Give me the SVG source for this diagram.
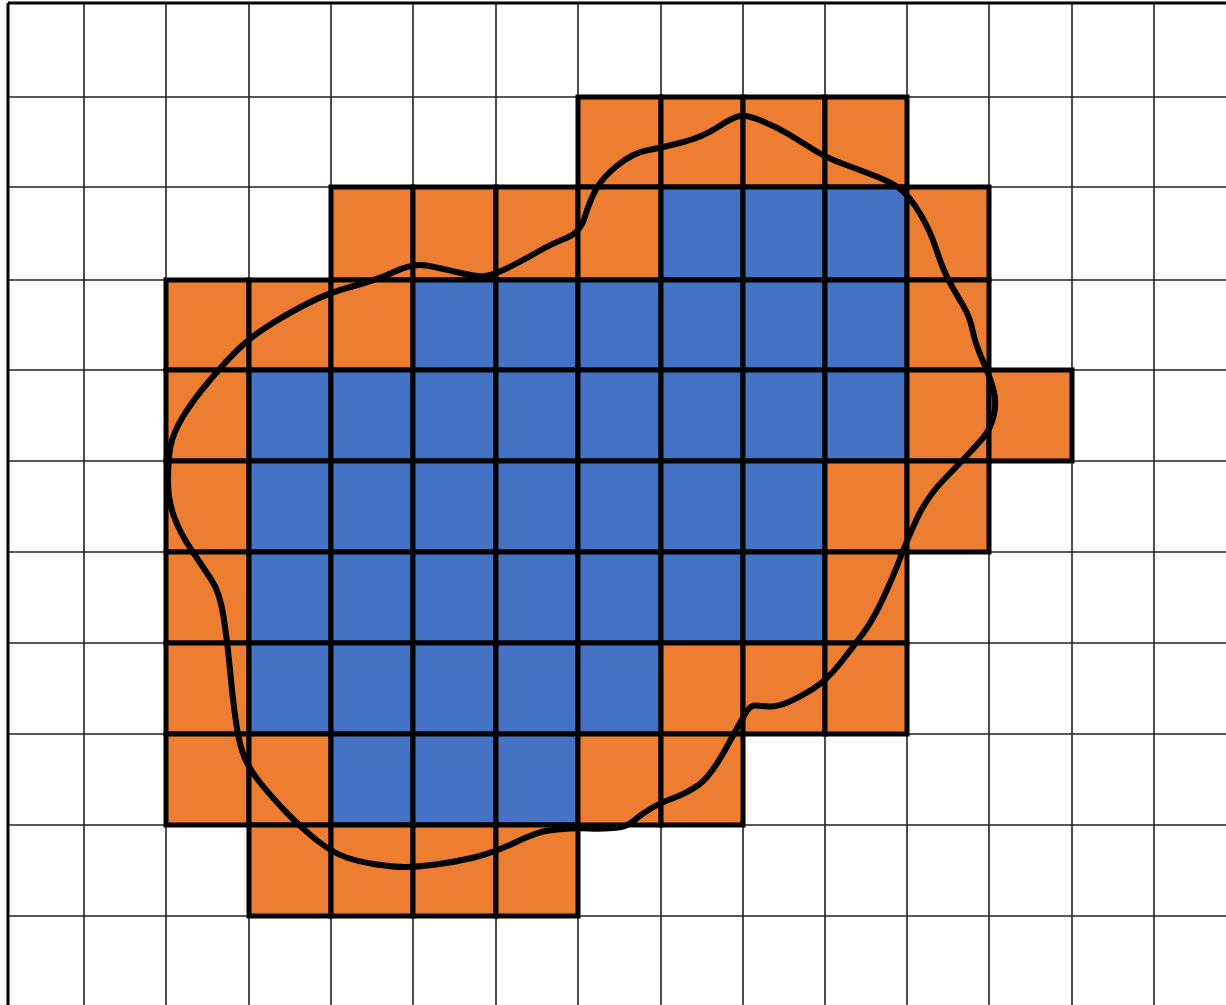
<svg xmlns="http://www.w3.org/2000/svg" width="1226" height="1005" viewBox="0 0 1226 1005">
<style>
.g{stroke:#222;stroke-width:1.6;fill:none}
.o{fill:#ED7D31;stroke:#000;stroke-width:5}
.b{fill:#4472C4;stroke:#000;stroke-width:5}
.c{fill:none;stroke:#000;stroke-width:6;stroke-linejoin:round;stroke-linecap:round}
</style>
<rect width="1226" height="1005" fill="#fff"/>
<g id="grid">
<path class="g" d="M84 3V1005M166 3V1005M249 3V1005M331 3V1005M413 3V1005M496 3V1005M578 3V1005M661 3V1005M743 3V1005M825 3V1005M907 3V1005M989 3V1005M1072 3V1005M1154 3V1005"/>
<path class="g" d="M8 97H1226M8 187H1226M8 280H1226M8 370H1226M8 461H1226M8 552H1226M8 643H1226M8 734H1226M8 825H1226M8 916H1226"/>
<path d="M8 3H1226M8 3V1005" stroke="#000" stroke-width="3" fill="none"/>
</g>
<g id="cells">
<rect class="o" x="578" y="97" width="83" height="90"/>
<rect class="o" x="661" y="97" width="82" height="90"/>
<rect class="o" x="743" y="97" width="82" height="90"/>
<rect class="o" x="825" y="97" width="82" height="90"/>
<rect class="o" x="331" y="187" width="82" height="93"/>
<rect class="o" x="413" y="187" width="83" height="93"/>
<rect class="o" x="496" y="187" width="82" height="93"/>
<rect class="o" x="578" y="187" width="83" height="93"/>
<rect class="b" x="661" y="187" width="82" height="93"/>
<rect class="b" x="743" y="187" width="82" height="93"/>
<rect class="b" x="825" y="187" width="82" height="93"/>
<rect class="o" x="907" y="187" width="82" height="93"/>
<rect class="o" x="166" y="280" width="83" height="90"/>
<rect class="o" x="249" y="280" width="82" height="90"/>
<rect class="o" x="331" y="280" width="82" height="90"/>
<rect class="b" x="413" y="280" width="83" height="90"/>
<rect class="b" x="496" y="280" width="82" height="90"/>
<rect class="b" x="578" y="280" width="83" height="90"/>
<rect class="b" x="661" y="280" width="82" height="90"/>
<rect class="b" x="743" y="280" width="82" height="90"/>
<rect class="b" x="825" y="280" width="82" height="90"/>
<rect class="o" x="907" y="280" width="82" height="90"/>
<rect class="o" x="166" y="370" width="83" height="91"/>
<rect class="b" x="249" y="370" width="82" height="91"/>
<rect class="b" x="331" y="370" width="82" height="91"/>
<rect class="b" x="413" y="370" width="83" height="91"/>
<rect class="b" x="496" y="370" width="82" height="91"/>
<rect class="b" x="578" y="370" width="83" height="91"/>
<rect class="b" x="661" y="370" width="82" height="91"/>
<rect class="b" x="743" y="370" width="82" height="91"/>
<rect class="b" x="825" y="370" width="82" height="91"/>
<rect class="o" x="907" y="370" width="82" height="91"/>
<rect class="o" x="989" y="370" width="83" height="91"/>
<rect class="o" x="166" y="461" width="83" height="91"/>
<rect class="b" x="249" y="461" width="82" height="91"/>
<rect class="b" x="331" y="461" width="82" height="91"/>
<rect class="b" x="413" y="461" width="83" height="91"/>
<rect class="b" x="496" y="461" width="82" height="91"/>
<rect class="b" x="578" y="461" width="83" height="91"/>
<rect class="b" x="661" y="461" width="82" height="91"/>
<rect class="b" x="743" y="461" width="82" height="91"/>
<rect class="o" x="825" y="461" width="82" height="91"/>
<rect class="o" x="907" y="461" width="82" height="91"/>
<rect class="o" x="166" y="552" width="83" height="91"/>
<rect class="b" x="249" y="552" width="82" height="91"/>
<rect class="b" x="331" y="552" width="82" height="91"/>
<rect class="b" x="413" y="552" width="83" height="91"/>
<rect class="b" x="496" y="552" width="82" height="91"/>
<rect class="b" x="578" y="552" width="83" height="91"/>
<rect class="b" x="661" y="552" width="82" height="91"/>
<rect class="b" x="743" y="552" width="82" height="91"/>
<rect class="o" x="825" y="552" width="82" height="91"/>
<rect class="o" x="166" y="643" width="83" height="91"/>
<rect class="b" x="249" y="643" width="82" height="91"/>
<rect class="b" x="331" y="643" width="82" height="91"/>
<rect class="b" x="413" y="643" width="83" height="91"/>
<rect class="b" x="496" y="643" width="82" height="91"/>
<rect class="b" x="578" y="643" width="83" height="91"/>
<rect class="o" x="661" y="643" width="82" height="91"/>
<rect class="o" x="743" y="643" width="82" height="91"/>
<rect class="o" x="825" y="643" width="82" height="91"/>
<rect class="o" x="166" y="734" width="83" height="91"/>
<rect class="o" x="249" y="734" width="82" height="91"/>
<rect class="b" x="331" y="734" width="82" height="91"/>
<rect class="b" x="413" y="734" width="83" height="91"/>
<rect class="b" x="496" y="734" width="82" height="91"/>
<rect class="o" x="578" y="734" width="83" height="91"/>
<rect class="o" x="661" y="734" width="82" height="91"/>
<rect class="o" x="249" y="825" width="82" height="91"/>
<rect class="o" x="331" y="825" width="82" height="91"/>
<rect class="o" x="413" y="825" width="83" height="91"/>
<rect class="o" x="496" y="825" width="82" height="91"/>
</g>
<g id="blob">
<path class="c" d="M740 116 Q747 115 762 121 Q777 127 790 135 Q803 143 815 150.5 Q827 158 843.5 164 Q860 170 876.5 176.5 Q893 183 901.5 190 Q910 197 920 213.5 Q930 230 936.5 250 Q943 270 949 281 Q955 292 962.5 304.5 Q970 317 972.5 330 Q975 343 982.5 360 Q990 377 993.5 390 Q997 403 993.5 416.5 Q990 430 982.5 438.5 Q975 447 967.5 455 Q960 463 943.5 480 Q927 497 917 518.5 Q907 540 900 558.5 Q893 577 883 598.5 Q873 620 863 633.5 Q853 647 840 663.5 Q827 680 813.5 688.5 Q800 697 788.5 702 Q777 707 768.5 706.5 Q760 706 755 705.5 Q750 705 745 714 Q740 723 725 750 Q710 777 698.5 785 Q687 793 673.5 798 Q660 803 650 809 Q640 815 633.5 821 Q627 827 613.5 828 Q600 829 590 828.5 Q580 828 570 828.5 Q560 829 548.5 830.5 Q537 832 515 842.5 Q493 853 474 857.5 Q455 862 436 864.5 Q417 867 405 867 Q393 867 376.5 864.5 Q360 862 346.5 857.5 Q333 853 316.5 840 Q300 827 285 811 Q270 795 260 782.5 Q250 770 245 758.5 Q240 747 237 728.5 Q234 710 232 690 Q230 670 228.5 655 Q227 640 223.5 616.5 Q220 593 211.5 580 Q203 567 191.5 550 Q180 533 174 516.5 Q168 500 168 480 Q168 460 170.5 446.5 Q173 433 183 416.5 Q193 400 210 380 Q227 360 238.5 349 Q250 338 265 328 Q280 318 303.5 305.5 Q327 293 352 286.5 Q377 280 395 271.5 Q413 263 426.5 265.5 Q440 268 458.5 272.5 Q477 277 485 276 Q493 275 506.5 268.5 Q520 262 536.5 252.5 Q553 243 566.5 238 Q580 233 585 216.5 Q590 200 596.5 188.5 Q603 177 618 165 Q633 153 646.5 150.5 Q660 148 681.5 142.5 Q703 137 718 127 Q733 117 740 116 Z"/>
</g>
</svg>
